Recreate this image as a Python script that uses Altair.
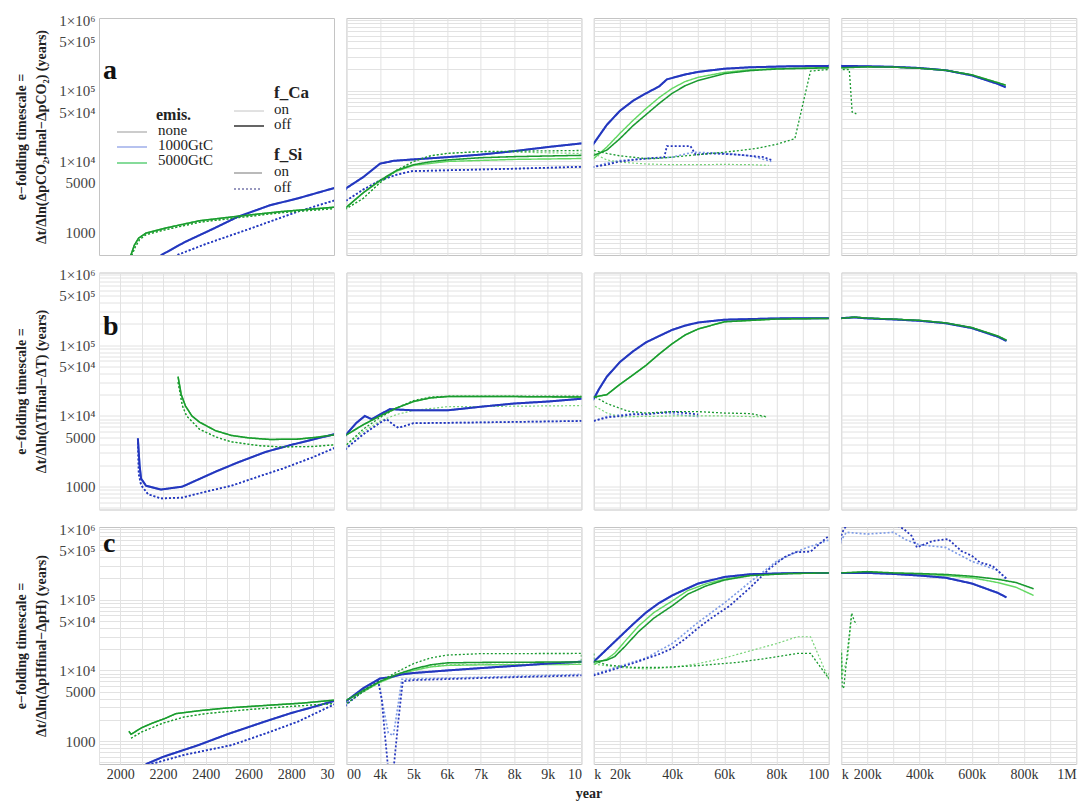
import altair as alt
import pandas as pd

# ---------------- data ----------------
# Row a : pCO2 e-folding timescale
A_BS_X = [2150, 2195, 2300, 2430, 2550, 2700, 2830, 3000, 3500, 4000, 4400, 5000, 6000, 7000, 8000, 9000, 10000, 15000, 20000, 25000, 30000, 35000, 38000, 45000, 50000, 60000, 70000, 85000, 100000, 200000, 300000, 400000, 500000, 600000, 700000, 730000]
A_BS_Y = [380, 480, 720, 1100, 1650, 2400, 3000, 4200, 6000, 9300, 10200, 10700, 11500, 12500, 14000, 16000, 18000, 33000, 52000, 72000, 92000, 115000, 145000, 170000, 185000, 205000, 215000, 222000, 225000, 222000, 218000, 210000, 195000, 165000, 125000, 112000]
A_BD_X = [2200, 2270, 2400, 2600, 2830, 3000, 3500, 4000, 4500, 4950, 6000, 8000, 10000, 15000, 20000, 30000, 37000, 38000, 47000, 49000, 55000, 65000, 75000, 78000]
A_BD_Y = [380, 480, 680, 1100, 1950, 2800, 4000, 5400, 6500, 7300, 7500, 7900, 8400, 9000, 10000, 11000, 11500, 16500, 16500, 12500, 13000, 12500, 11500, 10500]
A_BD_ON_X = [2200, 2270, 2400, 2600, 2830, 3000, 3500, 4000, 4500, 4950, 6000, 8000, 10000, 15000, 20000, 30000, 40000, 48000, 60000, 70000, 78000]
A_BD_ON_Y = [380, 480, 680, 1100, 1950, 2800, 4000, 5400, 6500, 7300, 7500, 7900, 8400, 9500, 10300, 11000, 11500, 13500, 13000, 12000, 10000]
A_GS_X = [2030, 2050, 2065, 2085, 2120, 2210, 2370, 2550, 2750, 3000, 3500, 4000, 4500, 5000, 5500, 6000, 7000, 8000, 10000, 15000, 20000, 25000, 30000, 35000, 40000, 45000, 50000, 60000, 70000, 80000, 100000, 200000, 300000, 400000, 500000, 600000, 700000, 730000]
A_GS_Y = [380, 480, 650, 820, 970, 1140, 1450, 1680, 1950, 2250, 3600, 5400, 7500, 9000, 9900, 10500, 11300, 11700, 12200, 14500, 21000, 32000, 46000, 66000, 92000, 118000, 140000, 175000, 193000, 203000, 211000, 218000, 216000, 208000, 195000, 168000, 130000, 120000]
A_GS_ON_X = [2030, 2050, 2065, 2085, 2120, 2210, 2370, 2550, 2750, 3000, 3500, 4000, 4500, 5000, 6000, 8000, 10000, 15000, 20000, 25000, 30000, 35000, 40000, 45000, 50000, 60000, 70000, 80000, 100000, 200000, 300000, 400000, 500000, 600000, 700000, 730000]
A_GS_ON_Y = [380, 480, 650, 820, 970, 1140, 1450, 1680, 1950, 2250, 3600, 5300, 7300, 8800, 10000, 10700, 11000, 16000, 25000, 38000, 56000, 80000, 108000, 135000, 155000, 182000, 198000, 206000, 213000, 218000, 216000, 208000, 195000, 168000, 130000, 120000]
A_GD_X = [2030, 2055, 2070, 2090, 2120, 2210, 2370, 2550, 2750, 3000, 3500, 4000, 4500, 5000, 5500, 6000, 7000, 10000, 15000, 20000, 30000, 34000, 40000, 50000, 60000, 72000, 80000, 87000, 93000, 100000, 131000, 142000, 158000]
A_GD_Y = [380, 480, 620, 780, 920, 1080, 1380, 1600, 1880, 2150, 3000, 5000, 7500, 10000, 12000, 13000, 13800, 14300, 13000, 12000, 11000, 11000, 11500, 12500, 13500, 15200, 17500, 21000, 190000, 200000, 200000, 50000, 47000]
A_GD_ON_X = [2030, 2055, 2070, 2090, 2120, 2210, 2370, 2550, 2750, 3000, 3500, 4000, 4500, 5000, 5500, 6000, 7000, 10000, 15000, 20000, 30000, 40000, 50000, 60000, 70000, 77000]
A_GD_ON_Y = [380, 480, 620, 780, 920, 1080, 1380, 1600, 1880, 2150, 3000, 5000, 7500, 10000, 12000, 13000, 13800, 13000, 10500, 9800, 9200, 9000, 9000, 9100, 9000, 8800]

# Row b : temperature e-folding timescale
B_BS_X = [2082, 2090, 2097, 2120, 2190, 2290, 2450, 2550, 2680, 2800, 3000, 3300, 3550, 3750, 4000, 4300, 5000, 6000, 7000, 8000, 9000, 10000, 12000, 15000, 20000, 25000, 30000, 35000, 40000, 45000, 50000, 60000, 80000, 100000, 150000, 200000, 300000, 400000, 500000, 600000, 700000, 733000]
B_BS_Y = [4800, 2000, 1300, 1030, 910, 1000, 1650, 2200, 3100, 3900, 5500, 8000, 10000, 9000, 10500, 12500, 12000, 12000, 13500, 15000, 16000, 17500, 24000, 36000, 58000, 82000, 110000, 135000, 165000, 190000, 210000, 230000, 240000, 242000, 248000, 240000, 232000, 222000, 205000, 175000, 132000, 115000]
B_BD_X = [2082, 2086, 2097, 2130, 2190, 2290, 2400, 2520, 2650, 2760, 2900, 3000, 3500, 4000, 4200, 4400, 4550, 5000, 7000, 10000, 15000, 20000, 25000, 30000, 35000, 40000, 45000, 50000]
B_BD_Y = [4800, 1500, 1050, 780, 680, 700, 850, 1030, 1400, 1800, 2600, 3500, 5500, 8000, 9000, 7500, 6800, 7900, 8100, 8500, 9500, 10000, 10500, 10500, 11000, 11500, 11000, 10500]
B_BD_ON_Y = [4800, 1500, 1050, 780, 680, 700, 850, 1030, 1400, 1800, 2600, 3500, 5500, 8000, 9000, 7500, 6800, 7900, 8100, 8500, 9800, 10300, 10800, 10800, 11000, 10800, 10200, 9800]
B_GS_X = [2270, 2285, 2305, 2335, 2370, 2445, 2520, 2600, 2700, 2830, 2920, 3000, 3500, 4000, 4500, 5000, 5500, 6000, 8000, 10000, 15000, 20000, 25000, 30000, 35000, 40000, 45000, 50000, 60000, 80000, 100000, 150000, 200000, 300000, 400000, 500000, 600000, 700000, 733000]
B_GS_Y = [36000, 20000, 13800, 10000, 8200, 6200, 5300, 4900, 4650, 4700, 5000, 5400, 7500, 10000, 13000, 16000, 18000, 18800, 18800, 18500, 20000, 28000, 38000, 52000, 75000, 105000, 140000, 170000, 215000, 235000, 240000, 250000, 242000, 234000, 225000, 207000, 178000, 135000, 118000]
B_GD_X = [2270, 2290, 2310, 2370, 2450, 2520, 2650, 2750, 2900, 3000, 3500, 4000, 4500, 5000, 5500, 6000, 10000, 15000, 23000, 30000, 40000, 50000, 60000, 70000, 76500]
B_GD_Y = [30000, 14000, 10000, 6500, 5000, 4300, 3800, 3650, 3700, 3900, 6500, 9500, 13000, 16500, 18500, 19000, 19000, 15000, 11700, 11000, 11500, 11500, 11000, 10800, 9700]
B_GD_ON_X = [2270, 2290, 2310, 2370, 2450, 2520, 2650, 2750, 2900, 3000, 3500, 4000, 4500, 5000, 6000, 10000, 15000, 20000, 40000, 60000, 76000]
B_GD_ON_Y = [30000, 14000, 10000, 6500, 5000, 4300, 3800, 3650, 3700, 3900, 6000, 8500, 10500, 12000, 13500, 14000, 11000, 9700, 10000, 10000, 9700]

# Row c : pH e-folding timescale
C_BS_X = [2080, 2125, 2200, 2366, 2500, 2678, 2800, 2912, 3000, 3500, 4000, 4300, 4650, 5000, 6000, 7000, 8000, 9000, 10000, 15000, 20000, 25000, 30000, 35000, 40000, 45000, 50000, 60000, 70000, 85000, 100000, 200000, 300000, 400000, 500000, 600000, 700000, 733000]
C_BS_Y = [380, 480, 600, 880, 1250, 1900, 2500, 3100, 3700, 5600, 7700, 8000, 8800, 9200, 10000, 10800, 11600, 12500, 13300, 20000, 30000, 45000, 66000, 90000, 115000, 140000, 170000, 210000, 230000, 238000, 240000, 240000, 232000, 220000, 205000, 170000, 125000, 108000]
C_BD_X = [2100, 2150, 2300, 2522, 2700, 2833, 3000, 3500, 3950, 4050, 4150, 4250, 4400, 4550, 4680, 5000, 7000, 10000, 20000, 27000, 35000, 40000, 45000, 50000, 55000, 62000, 70000, 77000, 83000, 87000, 93000, 100000, 110000, 130000, 300000, 340000, 370000, 390000, 450000, 510000, 560000, 600000, 630000, 680000, 733000]
C_BD_Y = [380, 480, 640, 880, 1350, 1900, 3300, 5200, 7000, 4000, 1200, 380, 380, 2000, 7000, 7300, 7800, 8500, 11000, 13400, 17000, 20500, 28000, 40000, 55000, 82000, 150000, 270000, 400000, 470000, 480000, 800000, 1000000, 1200000, 1200000, 1000000, 800000, 550000, 680000, 720000, 490000, 420000, 340000, 300000, 200000]
C_BD_ON_X = [2100, 2150, 2300, 2522, 2700, 2833, 3000, 3500, 3950, 4100, 4250, 4400, 4550, 4650, 5000, 7000, 10000, 20000, 30000, 40000, 50000, 60000, 70000, 80000, 90000, 100000, 120000, 200000, 300000, 350000, 400000, 500000, 600000, 700000, 733000]
C_BD_ON_Y = [380, 480, 640, 880, 1350, 1900, 3300, 5200, 7000, 3000, 1300, 1200, 3500, 7500, 7600, 8000, 8800, 11500, 15000, 24000, 48000, 90000, 180000, 350000, 520000, 700000, 900000, 850000, 900000, 700000, 600000, 550000, 350000, 260000, 190000]
C_GS_X = [2040, 2050, 2100, 2150, 2210, 2260, 2370, 2500, 2680, 2850, 3000, 3500, 4000, 4500, 5000, 5500, 6000, 7000, 10000, 15000, 18000, 22000, 27000, 33000, 40000, 46000, 53000, 60000, 70000, 85000, 100000, 200000, 300000, 400000, 500000, 600000, 700000, 770000, 837000]
C_GS_Y = [1380, 1250, 1550, 1800, 2100, 2450, 2700, 2950, 3200, 3450, 3800, 5200, 7000, 8800, 10500, 12000, 12800, 13000, 13200, 14000, 15700, 22000, 35000, 55000, 82000, 120000, 157000, 190000, 220000, 235000, 240000, 250000, 240000, 235000, 228000, 215000, 195000, 175000, 143000]
C_GS_ON_Y = [1380, 1250, 1550, 1800, 2100, 2450, 2700, 2950, 3200, 3450, 3800, 5000, 6800, 8500, 10000, 11200, 11800, 12000, 12200, 14500, 17500, 26000, 42000, 66000, 96000, 135000, 168000, 195000, 222000, 235000, 238000, 248000, 238000, 230000, 220000, 205000, 175000, 150000, 115000]
C_GD_X = [2050, 2100, 2200, 2300, 2400, 2600, 2800, 3000, 3500, 4000, 4500, 5000, 5500, 6000, 7000, 10000, 10001, 15000, 25000, 35000, 50000, 65000, 76000, 88000, 93000, 100000, 101000, 104000, 110000, 125000, 140000, 150000, 160000]
C_GD_Y = [1100, 1350, 1800, 2200, 2450, 2800, 3100, 3400, 5000, 7000, 9500, 12500, 15000, 16500, 17300, 17400, 13700, 12000, 11000, 11000, 11700, 13000, 14800, 17400, 17400, 7700, 18000, 5600, 5800, 20000, 65000, 50000, 45000]
C_GD_ON_X = [2050, 2100, 2200, 2300, 2400, 2600, 2800, 3000, 3500, 4000, 4500, 5000, 5500, 6000, 7000, 10000, 20000, 30000, 40000, 50000, 60000, 70000, 80000, 88000, 93000, 100000, 101000, 105000, 125000, 140000]
C_GD_ON_Y = [1100, 1350, 1800, 2200, 2450, 2800, 3100, 3400, 5000, 6800, 8800, 10500, 11500, 12000, 12200, 12300, 11000, 10500, 11000, 12500, 15000, 19000, 24000, 30000, 30000, 7500, 20000, 9000, 15000, 60000]

# curve list per row: (emission, f_Ca, f_Si, years, values)
CURVES = {
    0: [("1000", "off", "on", A_BS_X, A_BS_Y), ("1000", "on", "on", A_BS_X, A_BS_Y),
        ("1000", "off", "off", A_BD_X, A_BD_Y), ("1000", "on", "off", A_BD_ON_X, A_BD_ON_Y),
        ("5000", "off", "on", A_GS_X, A_GS_Y), ("5000", "on", "on", A_GS_ON_X, A_GS_ON_Y),
        ("5000", "off", "off", A_GD_X, A_GD_Y), ("5000", "on", "off", A_GD_ON_X, A_GD_ON_Y)],
    1: [("1000", "off", "on", B_BS_X, B_BS_Y), ("1000", "on", "on", B_BS_X, B_BS_Y),
        ("1000", "off", "off", B_BD_X, B_BD_Y), ("1000", "on", "off", B_BD_X, B_BD_ON_Y),
        ("5000", "off", "on", B_GS_X, B_GS_Y), ("5000", "on", "on", B_GS_X, B_GS_Y),
        ("5000", "off", "off", B_GD_X, B_GD_Y), ("5000", "on", "off", B_GD_ON_X, B_GD_ON_Y)],
    2: [("1000", "off", "on", C_BS_X, C_BS_Y), ("1000", "on", "on", C_BS_X, C_BS_Y),
        ("1000", "off", "off", C_BD_X, C_BD_Y), ("1000", "on", "off", C_BD_ON_X, C_BD_ON_Y),
        ("5000", "off", "on", C_GS_X, C_GS_Y), ("5000", "on", "on", C_GS_X, C_GS_ON_Y),
        ("5000", "off", "off", C_GD_X, C_GD_Y), ("5000", "on", "off", C_GD_ON_X, C_GD_ON_Y)],
}

ROW_LETTERS = ["a", "b", "c"]
Y_TITLES = [
    ["e\u2212folding timescale =", "\u0394t/\u0394ln(\u0394pCO\u2082,final\u2212\u0394pCO\u2082) (years)"],
    ["e\u2212folding timescale =", "\u0394t/\u0394ln(\u0394Tfinal\u2212\u0394T) (years)"],
    ["e\u2212folding timescale =", "\u0394t/\u0394ln(\u0394pHfinal\u2212\u0394pH) (years)"],
]

X_DOMAINS = [(1900, 3000), (3000, 10000), (10000, 100000), (100000, 1000000)]
X_TICKS = [list(range(1900, 3001, 100)), list(range(3000, 10001, 1000)),
           list(range(10000, 100001, 10000)), list(range(100000, 1000001, 100000))]
X_LABELS = [
    "datum.value == 3000 ? '30' : (datum.value % 200 == 0 ? format(datum.value, 'd') : '')",
    "datum.value == 3000 ? '00' : (datum.value == 10000 ? '10' : format(datum.value / 1000, 'd') + 'k')",
    "datum.value == 10000 ? 'k' : (datum.value == 100000 ? '100' : (datum.value % 20000 == 0 ? format(datum.value / 1000, 'd') + 'k' : ''))",
    "datum.value == 100000 ? 'k' : (datum.value == 1000000 ? '1M' : (datum.value % 200000 == 0 ? format(datum.value / 1000, 'd') + 'k' : ''))",
]
Y_TICKS = [500, 600, 700, 800, 900] + [k * 10 ** e for e in (3, 4, 5) for k in range(1, 10)] + [1000000]
Y_LABELS = ("datum.value == 1000000 ? '1\u00d710\u2076' : datum.value == 500000 ? '5\u00d710\u2075' : "
            "datum.value == 100000 ? '1\u00d710\u2075' : datum.value == 50000 ? '5\u00d710\u2074' : "
            "datum.value == 10000 ? '1\u00d710\u2074' : datum.value == 5000 ? '5000' : "
            "datum.value == 1000 ? '1000' : ''")
Y_DOMAIN = [475, 1070000]

STYLE_KEYS = ["1000|off|on", "1000|on|on", "1000|off|off", "1000|on|off",
              "5000|off|on", "5000|on|on", "5000|off|off", "5000|on|off"]
STYLE_COLORS = ["#2536bd", "#6d98ee", "#2536bd", "#7d9be6",
                "#1a9a30", "#62d862", "#1a9a30", "#77d377"]
STYLE_WIDTHS = [2.0, 1.2, 2.0, 1.2, 2.0, 1.2, 2.0, 1.2]
STYLE_DASH = [[1, 0], [1, 0], [2, 2], [2, 2], [1, 0], [1, 0], [2, 2], [2, 2]]

SERIF = "Liberation Serif"
GRID = "#e2e2e2"
PW, PH = 235, 237


def window(xs, ys, lo, hi):
    idx = [i for i, x in enumerate(xs) if lo <= x <= hi]
    if not idx:
        return [], []
    a = max(idx[0] - 1, 0)
    b = min(idx[-1] + 1, len(xs) - 1)
    return xs[a:b + 1], ys[a:b + 1]


def panel_df(row, col):
    lo, hi = X_DOMAINS[col]
    recs = []
    for i, (emis, fca, fsi, xs, ys) in enumerate(CURVES[row]):
        sx, sy = window(xs, ys, lo, hi)
        for x, y in zip(sx, sy):
            recs.append({"x": x, "y": y, "curve": f"c{i}", "style": f"{emis}|{fca}|{fsi}", "fca": fca})
    return pd.DataFrame(recs)


def one(t):
    return pd.DataFrame({"t": [t]})


def legend_layers():
    layers = []
    texts = [("emis.", 57, 102, "bold", 16), ("none", 59, 117, "normal", 15),
             ("1000GtC", 59, 132, "normal", 15), ("5000GtC", 59, 147, "normal", 15),
             ("f_Ca", 175, 80, "bold", 17), ("on", 175, 96, "normal", 15),
             ("off", 175, 111, "normal", 15), ("f_Si", 175, 142, "bold", 17),
             ("on", 175, 158, "normal", 15), ("off", 175, 174, "normal", 15)]
    for t, px, py, wt, fs in texts:
        layers.append(alt.Chart(one(t)).mark_text(align="left", baseline="alphabetic", font=SERIF,
                                                   fontSize=fs, fontWeight=wt, color="#222")
                      .encode(text="t:N", x=alt.value(px), y=alt.value(py)))
    rules = [(18, 48, 114, "#9a9a9a", 1.2, [1, 0]), (18, 48, 129, "#6f86e0", 1.2, [1, 0]),
             (18, 48, 145, "#5fd07a", 1.4, [1, 0]), (135, 165, 93, "#c4c4c4", 1.0, [1, 0]),
             (135, 165, 108, "#333333", 1.4, [1, 0]), (135, 163, 155, "#777777", 1.2, [1, 0]),
             (135, 163, 171, "#7777aa", 1.4, [2, 2])]
    for x1, x2, yy, c, w, d in rules:
        layers.append(alt.Chart(one("r")).mark_rule(color=c, strokeWidth=w, strokeDash=d)
                      .encode(x=alt.value(x1), x2=alt.value(x2), y=alt.value(yy)))
    return layers


def panel(row, col):
    lo, hi = X_DOMAINS[col]
    show_grid = not (row == 0 and col == 0)
    xkw = dict(values=X_TICKS[col], grid=show_grid, gridColor=GRID, ticks=False, domain=False,
               labelOverlap=False)
    if row == 2:
        xkw.update(labelExpr=X_LABELS[col], labelFont=SERIF, labelFontSize=14, labelColor="#333",
                   labelPadding=3)
        if col == 1:
            xkw.update(title="year", titleFont=SERIF, titleFontSize=14, titleFontWeight="bold",
                       titleColor="#222", titleX=242, titlePadding=5)
        else:
            xkw.update(title=None)
    else:
        xkw.update(labels=False, title=None)
    ykw = dict(values=Y_TICKS, grid=show_grid, gridColor=GRID, ticks=False, domain=False,
               labelOverlap=False)
    if col == 0:
        ykw.update(labelExpr=Y_LABELS, labelFont=SERIF, labelFontSize=15, labelColor="#444",
                   labelPadding=4, title=Y_TITLES[row], titleFont=SERIF, titleFontSize=14,
                   titleFontWeight="bold", titleColor="#222", titleLineHeight=20, titlePadding=10)
    else:
        ykw.update(labels=False, title=None)

    base = alt.Chart(panel_df(row, col)).encode(
        x=alt.X("x:Q", scale=alt.Scale(domain=[lo, hi], nice=False, zero=False), axis=alt.Axis(**xkw)),
        y=alt.Y("y:Q", scale=alt.Scale(type="log", domain=Y_DOMAIN, nice=False), axis=alt.Axis(**ykw)),
        color=alt.Color("style:N", scale=alt.Scale(domain=STYLE_KEYS, range=STYLE_COLORS), legend=None),
        strokeWidth=alt.StrokeWidth("style:N", scale=alt.Scale(domain=STYLE_KEYS, range=STYLE_WIDTHS), legend=None),
        strokeDash=alt.StrokeDash("style:N", scale=alt.Scale(domain=STYLE_KEYS, range=STYLE_DASH), legend=None),
        detail="curve:N",
    )
    thin = base.transform_filter(alt.datum.fca == "on").mark_line(clip=True)
    thick = base.transform_filter(alt.datum.fca == "off").mark_line(clip=True)
    layers = [thin, thick]
    if col == 0:
        ly = [61, 62, 25][row]
        layers.append(alt.Chart(one(ROW_LETTERS[row])).mark_text(
            align="left", baseline="alphabetic", font=SERIF, fontSize=28, fontWeight="bold", color="#111")
            .encode(text="t:N", x=alt.value(4), y=alt.value(ly)))
    if row == 0 and col == 0:
        layers += legend_layers()
    return alt.layer(*layers).properties(width=PW, height=PH)


panels = [panel(r, c) for r in range(3) for c in range(4)]

chart = (alt.concat(*panels, columns=4, spacing={"row": 17.5, "column": 12.4}, bounds="flush")
         .resolve_scale(x="independent", y="independent")
         .properties(padding={"left": 14, "top": 12, "right": 2, "bottom": 2}, background="white")
         .configure_view(stroke="#c4c4c4", strokeWidth=1))

chart.save("out.html", embed_options={"renderer": "svg", "actions": False})
